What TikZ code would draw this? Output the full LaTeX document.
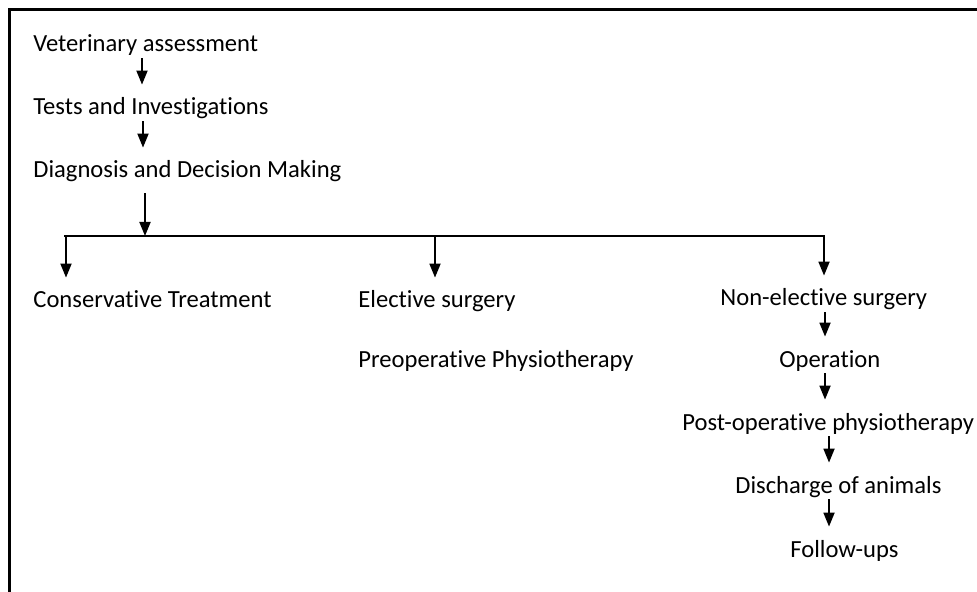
\documentclass[tikz,border=0pt]{standalone}
\usepackage{fontspec}
\setmainfont{Carlito}[Ligatures={NoCommon}]
\usetikzlibrary{arrows.meta}

\begin{document}
\begin{tikzpicture}[x=0.5pt, y=-0.5pt,
        stage/.style={anchor=base west, inner sep=0pt, text height=15pt, text depth=3pt, font=\fontsize{12.3}{14}\selectfont},
        flow/.style={-{Triangle[length=7pt, width=5.5pt]}, line width=0.9pt},
        frame/.style={line width=1.5pt}]
      \useasboundingbox (0,0) rectangle (977,592);
      % Frame
      \draw[frame] (9,592) -- (9,10) -- (977,10);

      % Nodes
      \node[stage] (vet) at (33,52) {Veterinary assessment};
      \node[stage] (tests) at (33,115) {Tests and Investigations};
      \node[stage] (diag) at (33,178) {Diagnosis and Decision Making};
      \node[stage] (cons) at (33,308) {Conservative Treatment};
      \node[stage] (elect) at (358,308) {Elective surgery};
      \node[stage] (preop) at (358,367) {Preoperative Physiotherapy};
      \node[stage] (nonelect) at (720,306) {Non-elective surgery};
      \node[stage] (oper) at (779,367) {Operation};
      \node[stage] (postop) at (682,430) {Post-operative physiotherapy};
      \node[stage] (disch) at (735,493) {Discharge of animals};
      \node[stage] (follow) at (790,557) {Follow-ups};

      % Arrow columns
      \coordinate (ca) at (142,0);
      \coordinate (cb) at (143,0);
      \coordinate (cc) at (145,0);
      \coordinate (d1) at (66,0);
      \coordinate (d2) at (435,0);
      \coordinate (d3) at (824,0);
      \coordinate (r1) at (825,0);
      \coordinate (r2) at (829,0);

      % Branch line
      \coordinate (bl) at (64,236);
      \coordinate (br) at (825,236);
      \draw[line width=0.9pt] (bl) -- (br);

      % Edges
      \draw[flow] (vet.south -| ca) -- (tests.north -| ca);
      \draw[flow] (tests.south -| cb) -- (diag.north -| cb);
      \draw[flow, shorten <=4.5pt] (diag.south -| cc) -- (bl -| cc);
      \draw[flow] (bl -| d1) -- (cons.north -| d1);
      \draw[flow] (bl -| d2) -- (elect.north -| d2);
      \draw[flow] (bl -| d3) -- (nonelect.north -| d3);
      \draw[flow] (nonelect.south -| r1) -- (oper.north -| r1);
      \draw[flow] (oper.south -| r1) -- (postop.north -| r1);
      \draw[flow] (postop.south -| r2) -- (disch.north -| r2);
      \draw[flow] (disch.south -| r2) -- (follow.north -| r2);
    \end{tikzpicture}
\end{document}
